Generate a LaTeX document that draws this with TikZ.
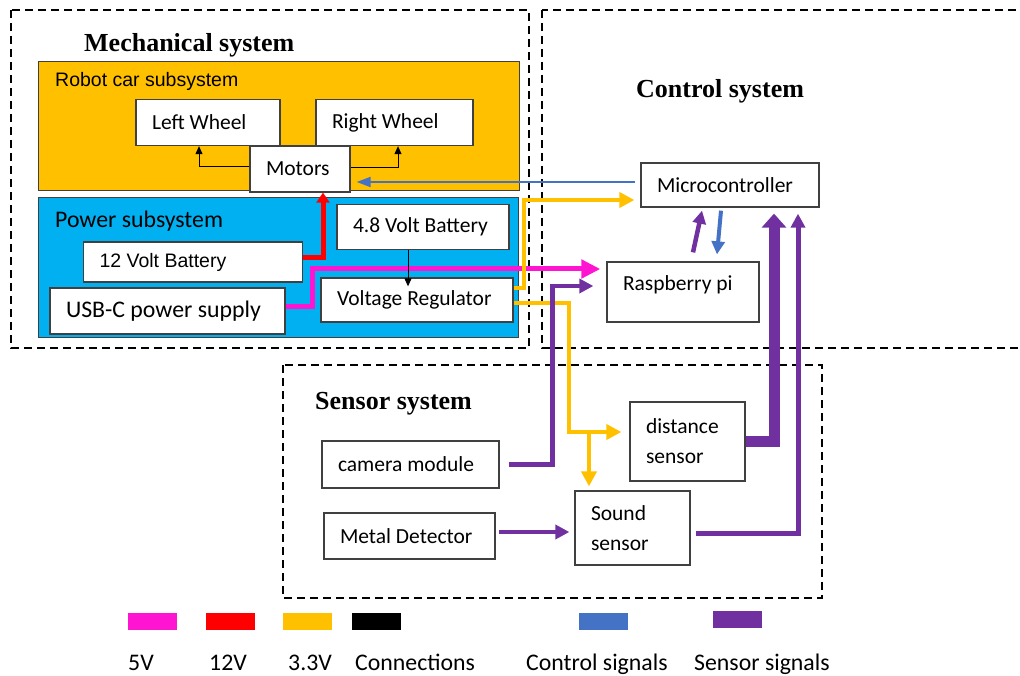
\documentclass[tikz,border=0pt]{standalone}
\usepackage{fontspec}
\setmainfont{Carlito}
\newfontfamily\arialfont{Liberation Sans}
\newfontfamily\timesfont{Liberation Serif}
\usepackage{tikz}
\usetikzlibrary{arrows.meta,calc}
\definecolor{carOrange}{HTML}{FFC000}
\definecolor{powerBlue}{HTML}{00B0F0}
\definecolor{fiveV}{HTML}{FF14D2}
\definecolor{twelveV}{HTML}{FF0000}
\definecolor{threeV}{HTML}{FFC000}
\definecolor{ctrl}{HTML}{4472C4}
\definecolor{sens}{HTML}{7030A0}
\definecolor{edge}{HTML}{404040}
\tikzset{
  unit/.style={rectangle, draw=edge, fill=white, line width=1.3pt, inner ysep=0pt,
               inner xsep=16pt, align=flush left, font=\fontsize{21.5}{26}\selectfont},
  twoline/.style={unit, font=\fontsize{21.5}{30}\selectfont},
  subsys/.style={rectangle, draw=edge, line width=1.3pt, inner sep=0pt, anchor=north west},
  sysframe/.style={draw=black, line width=2.3pt, dash pattern=on 8pt off 5pt},
  systitle/.style={font=\timesfont\bfseries\fontsize{26}{30}\selectfont, anchor=base west, inner sep=0pt},
  subtitle/.style={anchor=base west, inner sep=0pt},
  swatch/.style={rectangle, minimum width=49pt, minimum height=17pt, inner sep=0pt},
  keytext/.style={font=\fontsize{23.8}{28}\selectfont, anchor=base west, inner sep=0pt},
  link/.style={-{Triangle[length=8pt,width=7pt]}, line width=1pt, draw=black},
  v5/.style={-{Triangle[length=19pt,width=18pt]}, line width=5pt, draw=fiveV},
  v12/.style={-{Triangle[length=10pt,width=13pt]}, line width=5pt, draw=twelveV},
  v33/.style={-{Triangle[length=15pt,width=15pt]}, line width=4pt, draw=threeV},
  ctl/.style={-{Triangle[length=14pt,width=10pt]}, line width=2pt, draw=ctrl},
  sig/.style={-{Triangle[length=14pt,width=14pt]}, line width=4.5pt, draw=sens},
  sigthick/.style={-{Triangle[length=14pt,width=24pt]}, line width=11pt, draw=sens}
}
\begin{document}
\begin{tikzpicture}[x=1pt,y=-1pt]
\useasboundingbox (0,0) rectangle (1020,676);
\draw[sysframe] (11,10) rectangle (529,348);
\draw[sysframe] (542,10) rectangle (1026,348);
\draw[sysframe] (283,365) rectangle (822,598);
\node[systitle] (mechT) at (84,52) {Mechanical system};
\node[systitle] (ctrlT) at (636,98) {Control system};
\node[systitle] (sensT) at (315,409) {Sensor system};

\node[subsys, fill=carOrange, minimum width=481pt, minimum height=129pt] (car) at (38,61) {};
\node[subtitle, font=\arialfont\fontsize{19.5}{23}\selectfont] (carT) at (55,87) {Robot car subsystem};
\node[unit, text width=112pt, minimum height=46pt] (lw) at (208,122.5) {Left Wheel};
\node[unit, text width=125pt, minimum height=46pt] (rw) at (394.5,122.5) {Right Wheel};
\node[unit, text width=68pt, minimum height=46pt] (mot) at (300,169) {Motors};

\node[subsys, fill=powerBlue, minimum width=480pt, minimum height=140pt] (power) at (38,197) {};
\node[subtitle, font=\fontsize{23.8}{28}\selectfont] (powT) at (55,228) {Power subsystem};
\node[unit, text width=187pt, minimum height=40pt,
      font=\arialfont\fontsize{19.5}{23}\selectfont] (bat12) at (193,262) {12 Volt Battery};
\node[unit, text width=203pt, minimum height=46pt, font=\fontsize{23.8}{28}\selectfont] (usb) at (167.5,311) {USB-C power supply};
\node[unit, text width=140pt, minimum height=45pt] (bat48) at (423,227) {4.8 Volt Battery};
\node[unit, text width=160pt, minimum height=44pt] (reg) at (417,300) {Voltage Regulator};

\node[unit, text width=146pt, minimum height=44pt] (mcu) at (730,185) {Microcontroller};
\node[unit, text width=120pt, minimum height=60pt, text depth=18pt] (rpi) at (683,292) {Raspberry pi};

\node[unit, text width=145pt, minimum height=47pt] (cam) at (410.5,464.5) {camera module};
\node[unit, text width=139pt, minimum height=46pt] (metal) at (409.5,536) {Metal Detector};
\node[twoline, text width=83pt, minimum height=79pt] (dist) at (687.5,441.5) {distance\\sensor};
\node[twoline, text width=83pt, minimum height=74pt] (snd) at (632.5,528) {Sound\\sensor};

\draw[link] ([yshift=2pt]mot.west) -| ([xshift=-9pt]lw.south);
\draw[link] ([yshift=1pt]mot.east) -| ([xshift=3.5pt]rw.south);
\draw[v12] ([yshift=4pt]bat12.east) -| ([xshift=23pt]mot.south);
\draw[v5, shorten >=6pt] ([yshift=4pt]usb.east) -- ++(27,0) |- ([yshift=23pt]rpi.west);
\draw[link] ([xshift=-15pt]bat48.south) -- ([xshift=-15pt,yshift=-9pt]bat48.south |- reg.north);
\draw[v33, shorten >=6pt] ([yshift=12pt]reg.east) -- ++(10,0) |- ([yshift=-15pt]mcu.west);
\coordinate (split) at (589,432);
\draw[v33, shorten >=8pt] ([yshift=-3pt]reg.east) -- ++(55,0) |- ([yshift=9.5pt]dist.west);
\draw[v33, shorten >=4pt] (split) -- (split |- snd.north);
\draw[ctl, shorten <=5pt, shorten >=6pt] ([yshift=3pt]mcu.west) -- ([yshift=3pt]mcu.west -| mot.east);

\draw[sig, shorten <=9pt, shorten >=13pt] (cam.east) -- ++(53,0) |- ([yshift=6pt]rpi.west);
\draw[sig, shorten <=3pt, shorten >=5pt] ([yshift=4pt]metal.east) -- ([yshift=4pt]metal.east -| snd.west);
\draw[sigthick, shorten >=6pt] (dist.east) -| ([xshift=44pt]mcu.south);
\draw[sig, line width=5pt, shorten <=5pt, shorten >=6pt] ([yshift=-5pt]snd.east) -| ([xshift=68pt]mcu.south);
\draw[sig, -{Triangle[length=13pt,width=13pt]}] ($(rpi.north)+(10,-9)$) -- ($(mcu.south)+(-28,3)$);
\draw[ctl, line width=4pt, -{Triangle[length=13pt,width=13pt]}] ($(mcu.south)+(-9,3)$) -- ($(rpi.north)+(34,-7)$);

\node[swatch, fill=fiveV] (k5) at (152,621.5) {};
\node[swatch, fill=twelveV] (k12) at (230,621.5) {};
\node[swatch, fill=threeV] (k33) at (307.5,621.5) {};
\node[swatch, fill=black] (kcon) at (376.5,621.5) {};
\node[swatch, fill=ctrl] (kctl) at (603.5,621.5) {};
\node[swatch, fill=sens] (ksig) at (737.5,619) {};
\node[keytext] (k5T) at (128,670) {5V};
\node[keytext] (k12T) at (209,670) {12V};
\node[keytext] (k33T) at (288,670) {3.3V};
\node[keytext] (kconT) at (355,670) {Connections};
\node[keytext] (kctlT) at (526,670) {Control signals};
\node[keytext] (ksigT) at (694,670) {Sensor signals};
\end{tikzpicture}
\end{document}
